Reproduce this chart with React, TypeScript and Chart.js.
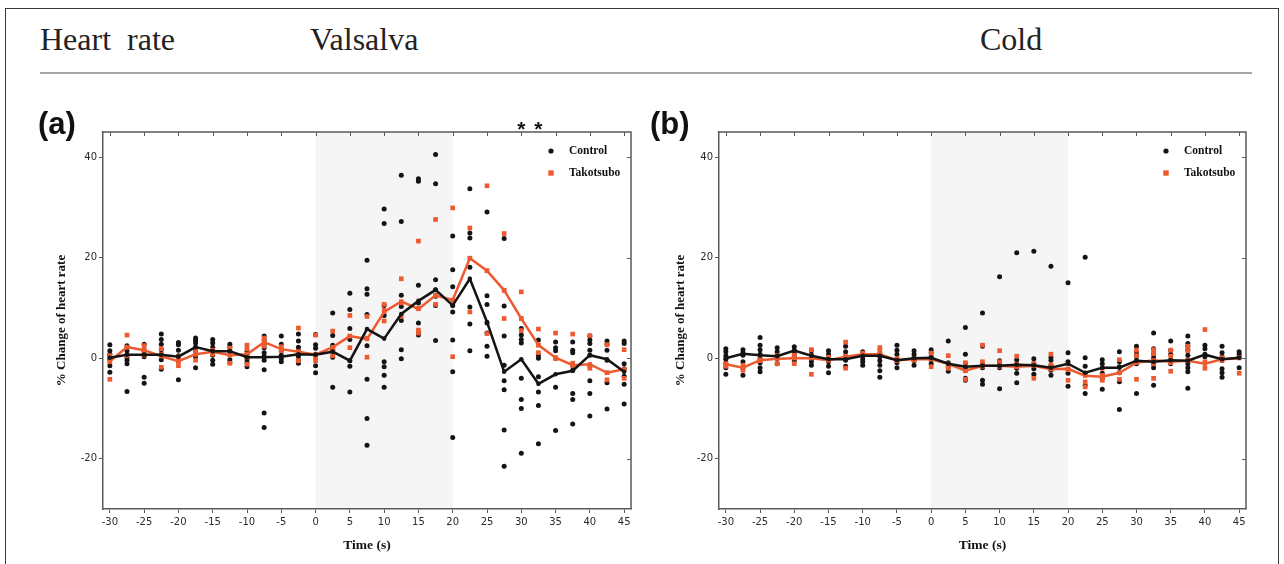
import React, { useEffect, useRef } from "react";
import { Chart, registerables } from "chart.js";

Chart.register(...registerables);

// ---------- data ----------
const timePoints = [
  -30, -27.5, -25, -22.5, -20, -17.5, -15, -12.5, -10, -7.5, -5, -2.5, 0, 2.5, 5, 7.5, 10, 12.5, 15,
  17.5, 20, 22.5, 25, 27.5, 30, 32.5, 35, 37.5, 40, 42.5, 45,
];
const xTickValues = [-30, -25, -20, -15, -10, -5, 0, 5, 10, 15, 20, 25, 30, 35, 40, 45];
const yTickValues = [-20, 0, 20, 40];
const xRange = [-31, 46];
const yRange = [-30, 45];
const stimulusWindow = [0, 20];
const valsalvaSignificantTimes = [30, 32.5];
const coldSignificantTimes: number[] = [];
const seriesLabels = ["Control", "Takotsubo"];

const valsalvaControlMean = [
  0.1, 0.7, 0.7, 0.7, 0.3, 2.2, 1.4, 1.4, 0.2, 0.2, 0.3, 0.8, 0.7, 1.3, -0.5, 5.8, 3.9, 8.8, 11.4,
  13.6, 10.5, 15.8, 7.2, -2.7, -0.2, -5.1, -3.2, -2.5, 0.6, -0.2, -2.7,
];
const valsalvaTakotsuboMean = [
  -0.6, 2.2, 1.6, 0.4, -0.6, 0.8, 1.3, 0.6, 0.8, 3.2, 1.8, 1.3, 0.7, 2.2, 4.4, 3.8, 9.2, 11.3, 9.8,
  12.5, 11.6, 19.9, 17.4, 13.5, 7.9, 2.6, 0.1, -1.4, -1.2, -2.9, -2.2,
];
const valsalvaControlPoints = [
  [2.7, 1.5, 0.8, 0.3, -0.2, -1.5, -2.8],
  [2.5, 1.5, 0.7, 0.1, -0.4, -1.1, -6.6],
  [2.8, 1.4, 0.8, 0.3, -3.8, -5.0],
  [4.8, 3.7, 2.8, 1.7, 0.6, -0.3, -2.2],
  [3.1, 2.7, 1.6, 0.5, -0.5, -4.3],
  [4.0, 3.5, 3.0, 2.2, 1.5, 0.3, -1.9],
  [3.7, 3.0, 2.2, 1.5, 0.6, -0.4, -1.2],
  [2.8, 2.2, 1.5, 0.8, -0.3, -0.9],
  [1.4, 0.7, 0.2, -0.3, -0.9, -1.7],
  [4.4, 3.6, 2.8, 2.1, 1.1, 0.4, -0.4, -2.3, -10.9, -13.8],
  [4.4, 2.8, 1.5, 0.6, -0.1, -0.7],
  [4.8, 3.4, 2.2, 1.5, 0.4, -0.4, -1.0],
  [4.7, 2.7, 2.0, 0.8, -1.5, -2.9],
  [9.0, 4.5, 2.6, 2.1, 1.6, 0.2, -5.8],
  [12.9, 9.7, 5.9, 3.7, -0.5, -1.6, -6.7],
  [19.5, 13.8, 12.7, 8.7, 2.5, -4.2, -12.0, -17.3],
  [29.7, 26.8, 10.5, 8.5, -0.7, -1.7, -3.4, -5.8],
  [36.4, 27.2, 12.5, 10.3, 7.5, 1.7, -0.1],
  [35.7, 35.2, 14.5, 11.0, 7.0, 5.1, 4.6],
  [40.5, 34.7, 15.6, 13.6, 12.3, 10.5, 3.5],
  [24.3, 17.6, 14.2, 10.5, 9.2, 3.6, -2.7, -15.8],
  [33.7, 24.9, 23.9, 18.1, 10.2, 6.8, 1.5],
  [29.1, 12.4, 10.7, 7.0, 5.0, 2.4, 0.4],
  [23.8, 10.4, 4.4, -1.4, -4.5, -6.3, -14.3, -21.5],
  [5.9, 4.6, 3.7, 3.0, -4.0, -8.2, -10.0, -18.9],
  [3.6, 0.6, 0.0, -3.7, -6.7, -9.4, -17.0],
  [3.2, 2.1, 1.5, -5.8, -14.4],
  [3.2, 1.6, 1.1, -1.4, -2.4, -7.0, -8.2, -13.1],
  [4.4, 3.6, 2.9, 1.6, 0.6, -4.5, -7.0, -11.5],
  [3.4, 2.8, 1.6, -0.4, -4.9, -10.1],
  [3.4, 2.9, -1.1, -2.1, -3.6, -5.2, -9.1],
];
const valsalvaTakotsuboPoints = [
  [-0.7, -4.2, 0.5],
  [4.6, 2.2, 0.5],
  [2.5, 1.6, 0.6],
  [1.9, -1.8, 0.8],
  [-0.6, -1.5, 0.3],
  [0.8, -0.4, 1.5],
  [1.6, 0.8, 1.4],
  [0.7, -1.0, 2.0],
  [2.6, 1.8, -1.2, 0.2],
  [3.2, 4.0, 2.4],
  [2.3, 1.6, 1.5],
  [6.0, 1.3, -0.5],
  [4.6, 0.0, -0.5],
  [5.4, 1.8, 0.5],
  [8.5, 4.4, 2.1],
  [8.3, 4.0, 0.2],
  [10.7, 9.5, 7.4],
  [15.8, 11.0, 8.3],
  [23.3, 9.9, 5.6, 5.0],
  [27.6, 12.5, 10.7],
  [29.9, 11.5, 0.3],
  [25.9, 19.9, 9.2],
  [34.3, 17.4, 4.9],
  [24.8, 13.5, 7.9],
  [13.2, 7.9, 5.5],
  [5.8, 2.6, 1.1],
  [5.0, 0.1, -0.1],
  [4.8, -1.4, -1.0],
  [4.5, -1.5, -2.0],
  [2.7, -2.9, -4.3],
  [1.7, -2.3, -4.0],
];

const coldControlMean = [
  0.0, 0.9, 0.6, 0.4, 1.5, 0.5, -0.2, -0.2, 0.5, 0.5, -0.4, 0.0, 0.1, -1.1, -1.7, -1.5, -1.5, -1.3,
  -1.4, -1.9, -1.1, -2.9, -1.9, -1.9, -0.5, -0.7, -0.4, -0.5, 0.7, -0.2, 0.1,
];
const coldTakotsuboMean = [
  -1.2, -1.9, -0.4, -0.1, 0.0, 0.0, -0.4, 0.3, 0.8, 0.8, -0.4, -0.2, -0.2, -1.1, -2.5, -1.5, -1.5,
  -1.7, -1.5, -2.2, -2.1, -3.5, -3.7, -2.9, -0.9, -0.4, -0.7, -0.5, -1.1, -0.2, 0.0,
];
const coldControlPoints = [
  [1.9, 1.3, 0.5, -0.2, -1.0, -1.9, -3.2],
  [1.7, 1.1, 0.6, -0.7, -1.9, -3.4],
  [4.1, 2.6, 1.7, 0.8, -0.1, -0.9, -1.9, -2.7],
  [2.1, 1.3, 0.6, -0.1, -1.1],
  [2.3, 1.6, 0.9, 0.3, -0.5],
  [1.6, 0.8, -0.1, -0.7, -1.4],
  [1.5, 0.8, 0.1, -0.7, -1.6, -2.9],
  [2.4, 1.3, 0.4, -0.4, -1.6],
  [1.3, 0.6, -0.1, -0.7, -1.4],
  [0.9, 0.3, -0.5, -1.4, -2.5, -3.8],
  [2.6, 1.6, 0.8, -0.1, -0.9, -1.9],
  [1.5, 0.8, 0.1, -0.5, -1.4],
  [1.7, 1.1, 0.3, -0.3, -1.1],
  [3.4, -0.9, -1.7, -2.6],
  [6.1, 0.8, -1.1, -2.0, -4.0, -4.4],
  [9.0, 2.4, -1.1, -1.6, -1.9, -4.4, -5.2],
  [16.2, -0.5, -1.1, -1.9, -6.1],
  [21.0, -0.3, -1.2, -2.0, -3.0, -4.9],
  [21.3, -0.1, -1.1, -2.1, -3.2],
  [18.3, 0.2, -0.4, -1.4, -2.4, -3.4],
  [15.0, 1.1, -0.7, -2.2, -3.0, -5.6],
  [20.1, 0.1, -1.6, -3.0, -5.4, -7.0],
  [-0.3, -1.1, -3.0, -4.0, -6.2],
  [1.3, -0.7, -1.7, -2.9, -4.7, -10.2],
  [2.4, 1.1, 0.4, -0.4, -1.1, -7.0],
  [5.0, 1.9, 0.9, 0.1, -1.1, -1.9, -5.4],
  [3.4, 1.6, 0.8, -0.3, -1.1],
  [4.4, 2.9, 2.4, 1.6, 0.6, -0.3, -1.1, -1.9, -2.7, -6.0],
  [2.6, 1.9, 0.8, 0.3],
  [2.4, 1.1, 0.3, -2.1, -2.9, -3.8],
  [1.3, 0.8, 0.3, -1.9],
];
const coldTakotsuboPoints = [
  [-1.1, -1.6],
  [-1.4, -2.4],
  [-0.3, -0.5],
  [0.1, -1.1, 0.5],
  [0.6, -1.1, 0.4],
  [1.7, -3.2, 0.5],
  [-0.4, 0.2],
  [3.2, 0.4, -2.0],
  [0.8, 1.0],
  [2.1, 1.5, 0.6],
  [-0.1, -0.5],
  [-0.1, -0.4],
  [-0.1, -1.7, 1.0],
  [0.5, -1.4, -2.0],
  [-0.9, -4.2, -2.5],
  [2.6, -0.7, -1.6],
  [1.5, -0.7, -1.6],
  [0.4, -1.2, -1.7],
  [-1.1, -4.0],
  [0.8, -1.4],
  [-2.3, -4.4],
  [-4.7, -5.7],
  [-2.0, -3.4, -4.4],
  [-0.3, -2.9, -4.2],
  [1.6, -4.2, 0.5],
  [1.7, 0.9, -1.1, -4.0],
  [1.6, 0.4, -0.9, -2.6],
  [2.4, 1.5, -0.4],
  [5.7, -0.7, -2.0],
  [0.1, -0.5],
  [0.1, -3.0],
];

// ---------- styles ----------
const BLACK = "#141414";
const ORANGE = "#ee5a2f";
const AXIS = "#5a5a5a";
const SERIF = "'Liberation Serif', 'Times New Roman', serif";
const SANS = "'DejaVu Sans', Verdana, sans-serif";

function toPoints(points: number[][]) {
  return points.flatMap((arr, i) => arr.map((v) => ({ x: timePoints[i], y: v })));
}
function toLine(mean: number[]) {
  return mean.map((v, i) => ({ x: timePoints[i], y: v }));
}

const decorPlugin = {
  id: "panelDecor",
  beforeDraw(chart: any, _args: any, opts: any) {
    const { ctx, chartArea, scales } = chart;
    const x0 = scales.x.getPixelForValue(opts.shade[0]);
    const x1 = scales.x.getPixelForValue(opts.shade[1]);
    ctx.save();
    ctx.fillStyle = "#f6f5f5";
    ctx.fillRect(x0, chartArea.top, x1 - x0, chartArea.bottom - chartArea.top);
    ctx.restore();
  },
  afterDraw(chart: any, _args: any, opts: any) {
    const { ctx, chartArea, scales } = chart;
    const { left, right, top, bottom } = chartArea;
    ctx.save();
    // top and right frame
    ctx.strokeStyle = AXIS;
    ctx.lineWidth = 1.5;
    ctx.beginPath();
    ctx.moveTo(left, top);
    ctx.lineTo(right, top);
    ctx.lineTo(right, bottom);
    ctx.stroke();
    ctx.lineWidth = 1;
    ctx.beginPath();
    xTickValues.forEach((v) => {
      const px = Math.round(scales.x.getPixelForValue(v)) + 0.5;
      ctx.moveTo(px, top);
      ctx.lineTo(px, top + 4);
    });
    yTickValues.forEach((v) => {
      const py = Math.round(scales.y.getPixelForValue(v)) + 0.5;
      ctx.moveTo(right, py);
      ctx.lineTo(right - 4, py);
    });
    ctx.stroke();

    // significance stars
    ctx.fillStyle = "#111";
    ctx.font = "bold 21px 'Liberation Sans', Arial, sans-serif";
    ctx.textAlign = "center";
    ctx.textBaseline = "alphabetic";
    (opts.stars as number[]).forEach((t) => {
      ctx.fillText("*", scales.x.getPixelForValue(t), top + 4);
    });

    // legend
    const lx = right - 80;
    const rows = [top + 19, top + 41];
    ctx.font = `bold 11.5px ${SERIF}`;
    ctx.textAlign = "left";
    ctx.textBaseline = "middle";
    seriesLabels.forEach((label, i) => {
      const y = rows[i];
      if (i === 0) {
        ctx.fillStyle = BLACK;
        ctx.beginPath();
        ctx.arc(lx, y, 2.6, 0, Math.PI * 2);
        ctx.fill();
      } else {
        ctx.fillStyle = ORANGE;
        ctx.fillRect(lx - 2.7, y - 2.7, 5.4, 5.4);
      }
      ctx.fillStyle = "#111";
      ctx.fillText(label, lx + 18, y + 0.5);
    });
    ctx.restore();
  },
};

type PanelProps = {
  controlMean: number[];
  takotsuboMean: number[];
  controlPoints: number[][];
  takotsuboPoints: number[][];
  stars: number[];
  width: number;
  padLeft: number;
  yWidth: number;
  padRight: number;
};

function Panel(p: PanelProps) {
  const ref = useRef<HTMLCanvasElement | null>(null);
  useEffect(() => {
    if (!ref.current) return;
    const tickFont = { family: SANS, size: 10 };
    const chart = new Chart(ref.current, {
      type: "scatter",
      data: {
        datasets: [
          {
            label: seriesLabels[0] + " mean",
            data: toLine(p.controlMean),
            showLine: true,
            borderColor: BLACK,
            backgroundColor: BLACK,
            borderWidth: 2.5,
            pointRadius: 2.3,
            pointBorderWidth: 0,
            pointStyle: "circle",
          },
          {
            label: seriesLabels[1] + " mean",
            data: toLine(p.takotsuboMean),
            showLine: true,
            borderColor: ORANGE,
            backgroundColor: ORANGE,
            borderWidth: 2.5,
            pointRadius: 3,
            pointBorderWidth: 0,
            pointStyle: "rect",
          },
          {
            label: seriesLabels[1],
            data: toPoints(p.takotsuboPoints),
            showLine: false,
            backgroundColor: ORANGE,
            borderColor: ORANGE,
            pointRadius: 3.3,
            pointBorderWidth: 0,
            pointStyle: "rect",
          },
          {
            label: seriesLabels[0],
            data: toPoints(p.controlPoints),
            showLine: false,
            backgroundColor: BLACK,
            borderColor: BLACK,
            pointRadius: 2.5,
            pointBorderWidth: 0,
            pointStyle: "circle",
          },
        ],
      },
      options: {
        animation: false,
        responsive: false,
        devicePixelRatio: 1,
        events: [],
        layout: { padding: { left: p.padLeft, top: 132, right: p.padRight, bottom: 0 } },
        plugins: {
          legend: { display: false },
          tooltip: { enabled: false },
          // @ts-ignore
          panelDecor: { shade: stimulusWindow, stars: p.stars },
        },
        scales: {
          x: {
            type: "linear",
            position: "bottom",
            min: xRange[0],
            max: xRange[1],
            afterBuildTicks: (s: any) => {
              s.ticks = xTickValues.map((v) => ({ value: v }));
            },
            afterFit: (s: any) => {
              s.height = 55;
            },
            grid: { drawOnChartArea: false, drawTicks: true, tickLength: 4, color: AXIS, lineWidth: 1 },
            border: { display: true, color: AXIS, width: 1.5 },
            ticks: { font: tickFont, color: "#2a2a2a", padding: 3, maxRotation: 0, autoSkip: false },
            title: {
              display: true,
              text: "Time (s)",
              color: "#111",
              font: { family: SERIF, size: 13.5, weight: "bold" },
              padding: { top: 0, bottom: 10 },
            },
          },
          y: {
            type: "linear",
            position: "left",
            min: yRange[0],
            max: yRange[1],
            afterBuildTicks: (s: any) => {
              s.ticks = yTickValues.map((v) => ({ value: v }));
            },
            afterFit: (s: any) => {
              s.width = p.yWidth;
            },
            grid: { drawOnChartArea: false, drawTicks: true, tickLength: 4, color: AXIS, lineWidth: 1 },
            border: { display: true, color: AXIS, width: 1.5 },
            ticks: { font: tickFont, color: "#2a2a2a", padding: 2 },
            title: {
              display: true,
              text: "% Change of heart rate",
              color: "#111",
              font: { family: SERIF, size: 13, weight: "bold" },
              padding: { top: 0, bottom: 0 },
            },
          },
        },
      },
      plugins: [decorPlugin as any],
    });
    return () => chart.destroy();
  }, []);
  return <canvas ref={ref} width={p.width} height={564} />;
}

export default function App() {
  const heading: React.CSSProperties = {
    position: "absolute",
    top: 23,
    fontFamily: SERIF,
    fontSize: 32,
    lineHeight: 1,
    color: "#222",
    whiteSpace: "pre",
  };
  const panelLabel: React.CSSProperties = {
    position: "absolute",
    top: 108,
    fontFamily: "'Liberation Sans', Arial, sans-serif",
    fontWeight: "bold",
    fontSize: 31,
    lineHeight: 1,
    color: "#111",
  };
  return (
    <div
      style={{
        position: "absolute",
        left: 0,
        top: 0,
        width: 1284,
        height: 564,
        overflow: "hidden",
        background: "#fff",
      }}
    >
      <div
        style={{
          position: "absolute",
          left: 5,
          top: 8,
          width: 1274,
          height: 620,
          border: "1.5px solid #3a3a3a",
          boxSizing: "border-box",
        }}
      />
      <div style={{ ...heading, left: 40, wordSpacing: 8 }}>Heart rate</div>
      <div style={{ ...heading, left: 310 }}>Valsalva</div>
      <div style={{ ...heading, left: 980 }}>Cold</div>
      <div
        style={{ position: "absolute", left: 40, top: 72, width: 1212, height: 2, background: "#a8a4a4" }}
      />
      <div style={{ position: "absolute", left: 0, top: 0 }}>
        <Panel
          controlMean={valsalvaControlMean}
          takotsuboMean={valsalvaTakotsuboMean}
          controlPoints={valsalvaControlPoints}
          takotsuboPoints={valsalvaTakotsuboPoints}
          stars={valsalvaSignificantTimes}
          width={650}
          padLeft={54}
          yWidth={49}
          padRight={19}
        />
      </div>
      <div style={{ position: "absolute", left: 650, top: 0 }}>
        <Panel
          controlMean={coldControlMean}
          takotsuboMean={coldTakotsuboMean}
          controlPoints={coldControlPoints}
          takotsuboPoints={coldTakotsuboPoints}
          stars={coldSignificantTimes}
          width={634}
          padLeft={23}
          yWidth={46}
          padRight={38}
        />
      </div>
      <div style={{ ...panelLabel, left: 38 }}>(a)</div>
      <div style={{ ...panelLabel, left: 650 }}>(b)</div>
    </div>
  );
}
